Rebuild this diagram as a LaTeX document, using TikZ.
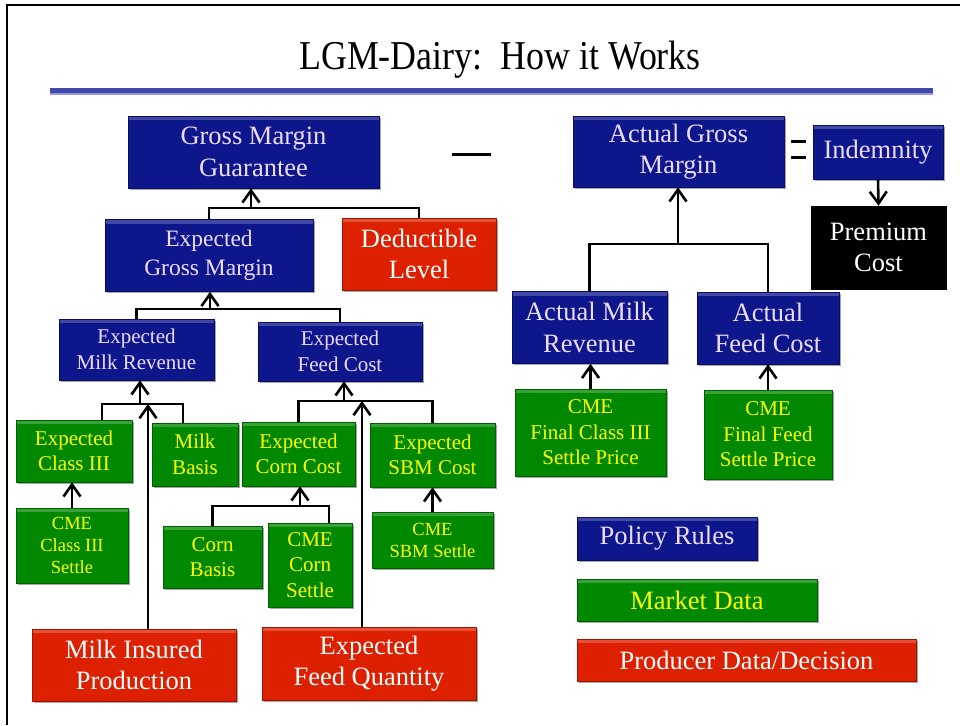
\documentclass[tikz,border=0pt]{standalone}
\usepackage{fontspec}
\setmainfont{Liberation Serif}
\usetikzlibrary{arrows.meta,shadows}
\definecolor{navy}{RGB}{14,22,140}
\definecolor{navyd}{RGB}{8,14,100}
\definecolor{grn}{RGB}{0,136,0}
\definecolor{grnd}{RGB}{0,95,0}
\definecolor{rd}{RGB}{221,32,0}
\definecolor{rdd}{RGB}{160,20,0}
\definecolor{lav}{RGB}{236,220,255}
\definecolor{yel}{RGB}{255,255,0}
\definecolor{barc}{RGB}{64,72,168}
\definecolor{barl}{RGB}{150,150,220}
\newcommand\fbig{\fontsize{26.5}{31.5}\selectfont}
\newcommand\fegm{\fontsize{23.5}{28.5}\selectfont}
\newcommand\fmed{\fontsize{21}{25.5}\selectfont}
\newcommand\fsml{\fontsize{18.5}{22}\selectfont}
\tikzset{
  basebox/.style={rectangle, inner sep=0pt, align=center, line width=0.6pt,
    drop shadow={shadow xshift=1.5pt, shadow yshift=-1.5pt, opacity=0.35, fill=black},
    path picture={\fill[white,opacity=0.22] (path picture bounding box.north west) rectangle ([yshift=-4pt]path picture bounding box.north east);}},
  bluebox/.style={basebox, fill=navy, draw=navyd, text=lav},
  greenbox/.style={basebox, fill=grn, draw=grnd, text=yel},
  redbox/.style={basebox, fill=rd, draw=rdd, text=white},
  blackbox/.style={rectangle, inner sep=0pt, align=center, fill=black, draw=black, text=white},
  conn/.style={line width=2.6pt, draw=black},
  arr/.style={conn, -{Straight Barb[length=12pt,width=17pt]}},
}
\begin{document}
\begin{tikzpicture}[x=1pt,y=-1pt]
\useasboundingbox (0,0) rectangle (960,725);
\fill[white] (0,0) rectangle (960,725);
% frame
\draw[line width=2pt] (7,725) -- (7,5) -- (960,5);
% title
\node (title) at (500,60) {\scalebox{0.875}[1]{\fontsize{41}{48}\selectfont LGM-Dairy:\ \ How it Works}};
\fill[barc] (50,88) rectangle (933,93);
\fill[barl] (50,93) rectangle (933,94.5);

% left tree
\node[bluebox, minimum width=251pt, minimum height=72pt, font=\fbig] (gmg) at (253.5,152) {Gross Margin\\Guarantee};
\node[bluebox, minimum width=208pt, minimum height=72pt, font=\fegm] (egm) at (209,255.5) {Expected\\Gross Margin};
\node[redbox, minimum width=154pt, minimum height=72pt, font=\fbig] (ded) at (419,254) {Deductible\\Level};
\node[bluebox, minimum width=155pt, minimum height=61pt, font=\fmed] (emr) at (136.5,349.5) {Expected\\Milk Revenue};
\node[bluebox, minimum width=164pt, minimum height=59pt, font=\fmed] (efc) at (340,351.5) {Expected\\Feed Cost};
\node[greenbox, minimum width=116pt, minimum height=62pt, font=\fmed] (ec3) at (74,451) {Expected\\Class III};
\node[greenbox, minimum width=86pt, minimum height=63pt, font=\fmed] (mb) at (195,454.5) {Milk\\Basis};
\node[greenbox, minimum width=113pt, minimum height=64pt, font=\fmed] (ecc) at (298.5,454) {Expected\\Corn Cost};
\node[greenbox, minimum width=125pt, minimum height=64pt, font=\fmed] (esbm) at (432.5,455) {Expected\\SBM Cost};
\node[greenbox, minimum width=112pt, minimum height=75pt, font=\fsml] (c3s) at (72,545.5) {CME\\Class III\\Settle};
\node[greenbox, minimum width=99pt, minimum height=62pt, font=\fmed] (cb) at (212.5,557) {Corn\\Basis};
\node[greenbox, minimum width=84pt, minimum height=84pt, font=\fmed] (ccs) at (310,565) {CME\\Corn\\Settle};
\node[greenbox, minimum width=121pt, minimum height=56pt, font=\fsml] (sbms) at (432.5,540) {CME\\SBM Settle};
\node[redbox, minimum width=204pt, minimum height=72pt, font=\fbig] (mip) at (134,665) {Milk Insured\\Production};
\node[redbox, minimum width=214pt, minimum height=73pt, font=\fbig] (efq) at (369,663.5) {Expected\\Feed Quantity};

% right tree
\node[bluebox, minimum width=211pt, minimum height=71pt, font=\fbig] (agm) at (678.5,151.5) {Actual Gross\\Margin};
\node[bluebox, minimum width=130pt, minimum height=54pt, font=\fbig] (ind) at (878,152) {Indemnity};
\node[blackbox, minimum width=135pt, minimum height=83pt, font=\fbig] (prem) at (878.5,247.5) {Premium\\Cost};
\node[bluebox, minimum width=155pt, minimum height=72pt, font=\fbig] (amr) at (589.5,327.5) {Actual Milk\\Revenue};
\node[bluebox, minimum width=142pt, minimum height=72pt, font=\fbig] (afc) at (768,328) {Actual\\Feed Cost};
\node[greenbox, minimum width=151pt, minimum height=87pt, font=\fmed] (fc3) at (590.5,432.5) {CME\\Final Class III\\Settle Price};
\node[greenbox, minimum width=128pt, minimum height=89pt, font=\fmed] (ffeed) at (768,434.5) {CME\\Final Feed\\Settle Price};

% legend
\node[bluebox, minimum width=180pt, minimum height=43pt, font=\fbig] (lpol) at (667,538.5) {Policy Rules};
\node[greenbox, minimum width=240pt, minimum height=42pt, font=\fbig] (lmkt) at (697,600) {Market Data};
\node[redbox, minimum width=339pt, minimum height=42pt, font=\fbig] (lprod) at (746.5,660) {Producer Data/Decision};

% operators
\draw[line width=3pt] (452,154) -- (491,154);
\draw[line width=3pt] (791,141) -- (806,141);
\draw[line width=3pt] (791,157) -- (806,157);

% junctions
\coordinate (j1) at (251,208);
\coordinate (j2) at (210,309);
\coordinate (j3) at (140,404);
\coordinate (j3a) at (102,404);
\coordinate (j3b) at (183,404);
\coordinate (k1) at (148,404);
\coordinate (j4) at (344,401);
\coordinate (k2) at (362,401);
\coordinate (j5) at (300,506);
\coordinate (j5b) at (329,506);
\coordinate (j6) at (678,244);

% connectors left
\draw[conn] (egm.north) |- (j1) -| (ded.north);
\draw[arr] (j1) -- (j1 |- gmg.south);
\draw[conn] (emr.north) |- (j2) -| (efc.north);
\draw[arr] (j2) -- (j2 |- egm.south);
\draw[conn] (j3a |- ec3.north) -- (j3a) -- (j3b) -- (j3b |- mb.north);
\draw[arr] (j3) -- (j3 |- emr.south);
\draw[arr] (k1 |- mip.north) -- (k1);
\draw[conn] (ecc.north) |- (j4) -| (esbm.north);
\draw[arr] (j4) -- (j4 |- efc.south);
\draw[arr] (k2 |- efq.north) -- (k2);
\draw[arr] (c3s.north) -- (c3s.north |- ec3.south);
\draw[conn] (cb.north) |- (j5b) -- (j5b |- ccs.north);
\draw[arr] (j5) -- (j5 |- ecc.south);
\draw[arr] (sbms.north) -- (sbms.north |- esbm.south);

% connectors right
\draw[conn] (amr.north) |- (j6) -| (afc.north);
\draw[arr] (j6) -- (j6 |- agm.south);
\draw[arr] (ind.south) -- (prem.north);
\draw[arr] (fc3.north) -- (fc3.north |- amr.south);
\draw[arr] (ffeed.north) -- (ffeed.north |- afc.south);
\end{tikzpicture}
\end{document}
